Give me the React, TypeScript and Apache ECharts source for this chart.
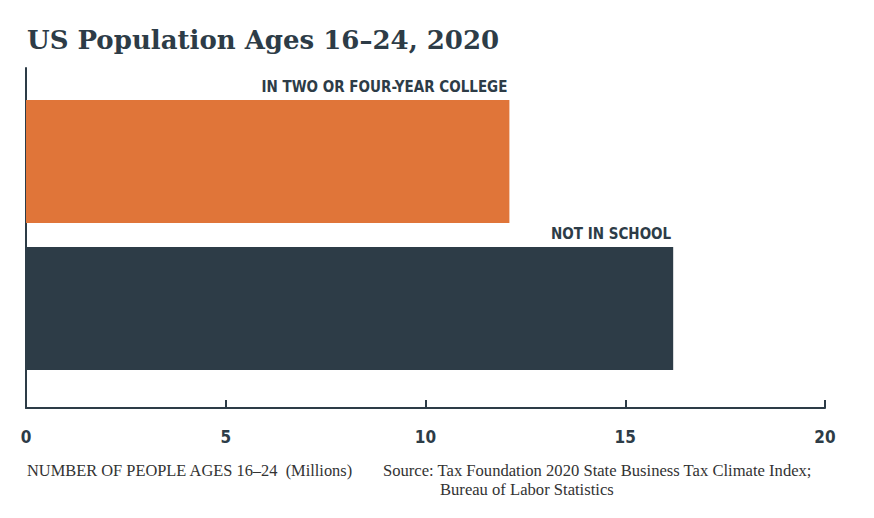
import React, { useEffect, useRef } from "react";
import * as echarts from "echarts";

const categories = ["IN TWO OR FOUR-YEAR COLLEGE", "NOT IN SCHOOL"];
const values = [12.1, 16.2];
const barColors = ["#E07539", "#2D3C47"];
const xTicks = [0, 5, 10, 15, 20];

const INK = "#2D3C47";
const NARROW = "'DejaVu Sans Condensed', 'Liberation Sans Narrow', sans-serif";
const SERIF = "'Liberation Serif', 'DejaVu Serif', serif";
const TITLE_SERIF = "'DejaVu Serif', 'Liberation Serif', serif";

export default function App() {
  const ref = useRef<HTMLDivElement>(null);

  useEffect(() => {
    if (!ref.current) return;
    const chart = echarts.init(ref.current, null, { renderer: "svg" });
    const xMin = xTicks[0];
    const xMax = xTicks[xTicks.length - 1];
    const step = xTicks[1] - xTicks[0];

    chart.setOption({
      animation: false,
      backgroundColor: "#ffffff",
      title: {
        text: "US Population Ages 16–24, 2020",
        left: 22,
        top: 22,
        textStyle: { fontFamily: TITLE_SERIF, fontWeight: "bold", fontSize: 26, color: INK },
      },
      grid: [
        // bars
        { left: 26, right: 49, top: 88, bottom: 518 - 382 },
        // frame with the value axis
        { left: 26, right: 49, top: 68, bottom: 518 - 408 },
      ],
      xAxis: [
        { gridIndex: 0, type: "value", min: xMin, max: xMax, interval: step, show: false },
        {
          gridIndex: 1,
          type: "value",
          min: xMin,
          max: xMax,
          interval: step,
          axisLine: { show: true, lineStyle: { color: INK, width: 2 } },
          axisTick: { show: true, inside: true, length: 8, lineStyle: { color: INK, width: 2 } },
          splitLine: { show: false },
          axisLabel: {
            margin: 20,
            color: INK,
            fontFamily: NARROW,
            fontWeight: "bold",
            fontSize: 17,
          },
        },
      ],
      yAxis: [
        {
          gridIndex: 0,
          type: "category",
          data: categories,
          inverse: true,
          show: false,
        },
        {
          gridIndex: 1,
          type: "value",
          min: 0,
          max: 1,
          axisLine: { show: true, lineStyle: { color: INK, width: 2 } },
          axisTick: { show: false },
          axisLabel: { show: false },
          splitLine: { show: false },
        },
      ],
      series: [
        {
          type: "bar",
          xAxisIndex: 0,
          yAxisIndex: 0,
          barWidth: 123,
          data: values.map((v, i) => ({ value: v, itemStyle: { color: barColors[i] } })),
          label: {
            show: true,
            position: ["100%", -6],
            align: "right",
            verticalAlign: "bottom",
            offset: [-2, 0],
            formatter: (p: any) => p.name,
            color: INK,
            fontFamily: NARROW,
            fontWeight: "bold",
            fontSize: 15,
          },
        },
      ],
      graphic: [
        {
          type: "text",
          left: 27,
          top: 462,
          style: {
            text: "NUMBER OF PEOPLE AGES 16–24  (Millions)",
            fontFamily: SERIF,
            fontSize: 16.4,
            fill: "#333333",
          },
        },
        {
          type: "text",
          left: 383,
          top: 462,
          style: {
            text: "Source: Tax Foundation 2020 State Business Tax Climate Index;",
            fontFamily: SERIF,
            fontSize: 16.6,
            fill: "#333333",
          },
        },
        {
          type: "text",
          left: 440,
          top: 481,
          style: {
            text: "Bureau of Labor Statistics",
            fontFamily: SERIF,
            fontSize: 16.6,
            fill: "#333333",
          },
        },
      ],
    });

    return () => chart.dispose();
  }, []);

  return (
    <div
      ref={ref}
      style={{ position: "fixed", left: 0, top: 0, width: 874, height: 518 }}
    />
  );
}
